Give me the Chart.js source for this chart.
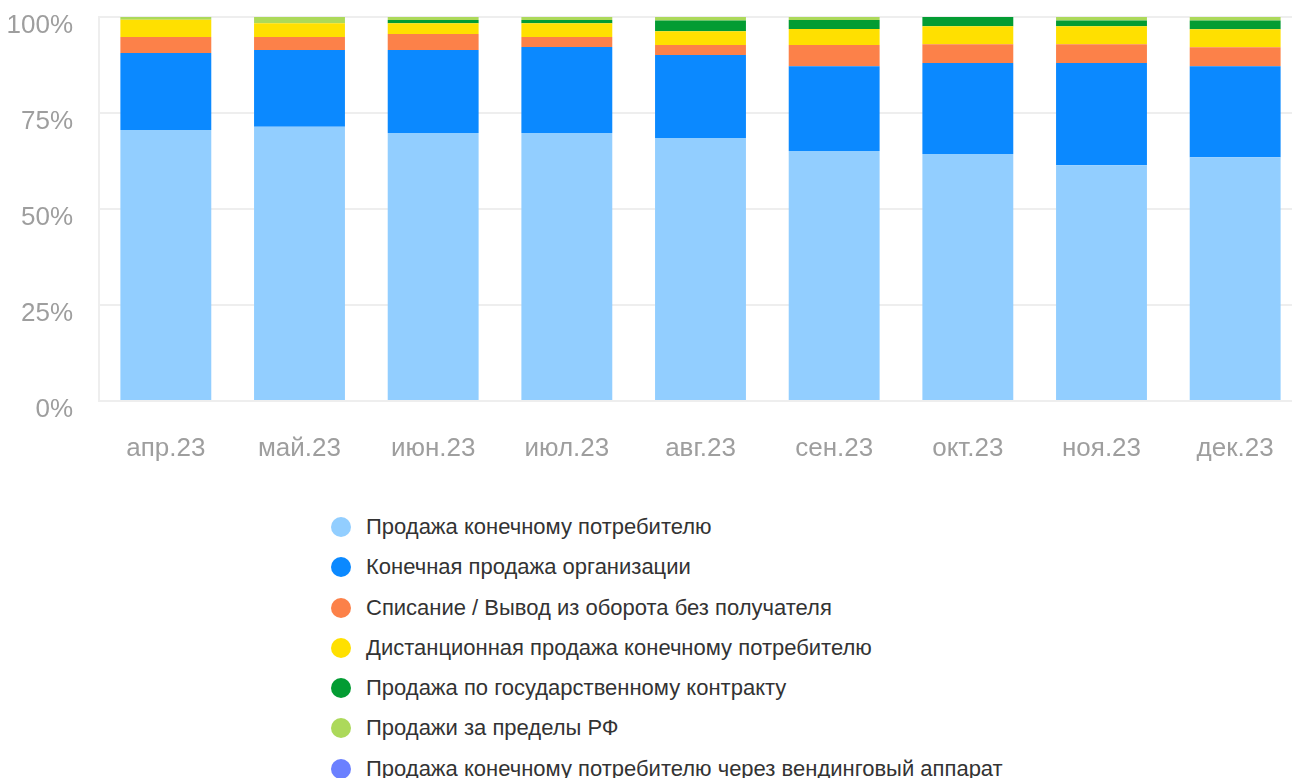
<!DOCTYPE html>
<html>
<head>
<meta charset="utf-8">
<script src="https://cdn.jsdelivr.net/npm/chart.js@4"></script>
<style>
    html, body { margin: 0; padding: 0; background: #fff; overflow: hidden; }
    #wrap { position: relative; width: 1292px; height: 778px; overflow: hidden; }
    #box { position: absolute; left: 0; top: 0; width: 1303px; height: 480px; }
    #legend { position: absolute; left: 331px; top: 507px; margin: 0; padding: 0; list-style: none;
        font-family: "Liberation Sans", Arial, sans-serif; font-size: 22px; color: #333; }
    #legend li { height: 40.3px; line-height: 40px; white-space: nowrap; }
    #legend span { display: inline-block; width: 20px; height: 20px; border-radius: 50%;
        margin-right: 15px; vertical-align: -3px; }
</style>
</head>
<body>
<div id="wrap">
    <div id="box"><canvas id="chart"></canvas></div>
    <ul id="legend"></ul>
</div>
<script>
// months on x axis
var months = ["апр.23", "май.23", "июн.23", "июл.23", "авг.23", "сен.23", "окт.23", "ноя.23", "дек.23"];

// shares in %
var retail = [70.6, 71.4, 69.8, 69.8, 68.5, 65.1, 64.3, 61.4, 63.5];
var orgSale = [20.0, 20.0, 21.6, 22.4, 21.6, 22.1, 23.7, 26.6, 23.7];
var writeOff = [4.2, 3.4, 4.2, 2.6, 2.6, 5.5, 4.9, 4.9, 4.9];
var remote = [4.5, 3.6, 2.8, 3.6, 3.6, 4.2, 4.7, 4.7, 4.7];
var govContract = [0, 0, 0.8, 0.8, 2.8, 2.3, 2.4, 1.5, 2.3];
var abroad = [0.7, 1.6, 0.8, 0.8, 0.9, 0.8, 0, 0.9, 0.9];
var vending = [0, 0, 0, 0, 0, 0, 0, 0, 0];

var yTicks = [0, 25, 50, 75, 100];

var seriesNames = [
    "Продажа конечному потребителю",
    "Конечная продажа организации",
    "Списание / Вывод из оборота без получателя",
    "Дистанционная продажа конечному потребителю",
    "Продажа по государственному контракту",
    "Продажи за пределы РФ",
    "Продажа конечному потребителю через вендинговый аппарат"
];
var seriesData = [retail, orgSale, writeOff, remote, govContract, abroad, vending];
var seriesColors = ["#92ceff", "#0b89ff", "#fc8149", "#ffe000", "#039c33", "#acd95a", "#6b80ff"];

var datasets = [];
for (var i = 0; i < seriesNames.length; i++) { //building one dataset per series
    datasets.push({
        label: seriesNames[i],
        data: seriesData[i],
        backgroundColor: seriesColors[i],
        borderWidth: 0,
        categoryPercentage: 1,
        barPercentage: 0.68
    });
}

var tickFont = { family: "'Liberation Sans', Arial, sans-serif", size: 26 };

var ctx = document.getElementById('chart').getContext('2d');
window.myChart = new Chart(ctx, {
    type: 'bar',
    data: { labels: months, datasets: datasets },
    options: {
        responsive: true,
        maintainAspectRatio: false,
        animation: false,
        layout: { padding: { top: 17, right: 1, left: 0, bottom: 0 } },
        plugins: { legend: { display: false }, tooltip: { enabled: false } },
        scales: {
            x: {
                stacked: true,
                grid: { display: false, drawTicks: false },
                border: { display: true, color: '#eeeeee', width: 2 },
                ticks: { color: '#9e9e9e', font: tickFont, padding: 32, maxRotation: 0 },
                afterFit: function (axis) {
                    axis.height = 79;
                    axis.paddingLeft = 0;
                    axis.paddingRight = 0;
                }
            },
            y: {
                stacked: true,
                min: 0,
                max: 100,
                afterBuildTicks: function (axis) {
                    axis.ticks = yTicks.map(function (v) { return { value: v }; });
                },
                grid: { color: '#eeeeee', lineWidth: 2, drawTicks: false },
                border: { display: true, color: '#eeeeee', width: 2 },
                ticks: {
                    color: '#9e9e9e', font: tickFont, padding: 26, labelOffset: 9,
                    callback: function (v) { return v + '%'; }
                },
                afterFit: function (axis) {
                    axis.width = 99;
                    axis.paddingTop = 0; // no extra room for the top label
                    axis.paddingBottom = 0;
                }
            }
        }
    }
});

// html legend, one item per row
var legendEl = document.getElementById('legend');
window.myChart.data.datasets.forEach(function (ds) {
    var li = document.createElement('li');
    var dot = document.createElement('span');
    dot.style.background = ds.backgroundColor;
    li.appendChild(dot);
    li.appendChild(document.createTextNode(ds.label));
    legendEl.appendChild(li);
});
</script>
</body>
</html>
